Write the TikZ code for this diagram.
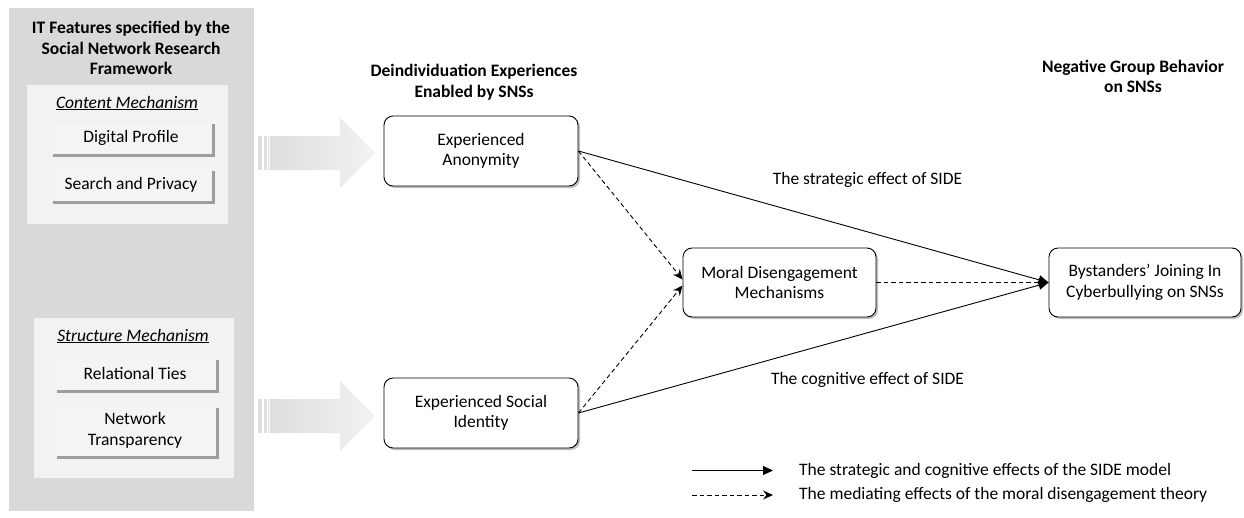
\documentclass[tikz,border=0pt]{standalone}
\usepackage{fontspec}
\setmainfont{Carlito}
\usetikzlibrary{arrows.meta,shadows,calc}
\definecolor{panel}{RGB}{217,217,217}
\definecolor{subpanel}{RGB}{242,242,242}
\definecolor{featfill}{RGB}{244,244,244}
\definecolor{arrowL}{RGB}{222,222,222}
\definecolor{arrowR}{RGB}{242,242,242}
\tikzset{
  basefont/.style={font=\fontsize{17.5}{20.5}\selectfont},
  featbox/.style={basefont, fill=featfill, minimum width=162pt, inner sep=0pt, align=center,
    drop shadow={shadow xshift=2.5pt, shadow yshift=-2.5pt, fill=black, opacity=0.35}},
  roundbox/.style={basefont, draw, line width=0.9pt, fill=white, rounded corners=9pt, align=center, inner sep=0pt,
    drop shadow={shadow xshift=2pt, shadow yshift=-2pt, fill=black, opacity=0.25}},
  header/.style={font=\bfseries\fontsize{17.5}{20.5}\selectfont, align=center},
  solidarrow/.style={line width=0.9pt, -{Triangle[length=10pt,width=9pt]}},
  dasharrow/.style={line width=0.9pt, dash pattern=on 4.5pt off 3pt, -{Stealth[length=10pt,width=9pt,inset=3.5pt]}},
  lbl/.style={basefont, anchor=center},
  bigarrow/.style={left color=arrowL, right color=arrowR, draw=none},
}
\begin{document}
\begin{tikzpicture}[x=1pt,y=-1pt]
\useasboundingbox (0,0) rectangle (1244,517);
\fill[white] (0,0) rectangle (1244,517);

% left panel
\fill[panel] (9,8) rectangle (254,511);
\node[header] (ittitle) at (131,48) {IT Features specified by the\\Social Network Research\\Framework};
\fill[subpanel] (27,85) rectangle (228,224);
\fill[subpanel] (34,318) rectangle (234,478);
\node[basefont] (cm) at (127,103) {\underline{\textit{Content Mechanism}}};
\node[basefont] (sm) at (133,336) {\underline{\textit{Structure Mechanism}}};
\node[featbox, minimum height=33pt] (dp) at (131,137.5) {Digital Profile};
\node[featbox, minimum height=33pt] (sp) at (131,184.5) {Search and Privacy};
\node[featbox, minimum height=33pt] (rt) at (135,373.5) {Relational Ties};
\node[featbox, minimum height=51pt] (nt) at (135,430.5) {Network\\Transparency};

% big arrows
\foreach \cy in {153,416}{
  \fill[arrowL] (258,\cy-17) rectangle (262,\cy+17);
  \fill[arrowL] (263.5,\cy-17) rectangle (266.5,\cy+17);
  \fill[arrowL] (268,\cy-17) rectangle (269.2,\cy+17);
  \path[bigarrow] (270,\cy-17) -- (340,\cy-17) -- (340,\cy-35) -- (375,\cy) -- (340,\cy+35) -- (340,\cy+17) -- (270,\cy+17) -- cycle;
}

% headers
\node[header] (h1) at (474,82) {Deindividuation Experiences\\Enabled by SNSs};
\node[header] (h2) at (1133,76.5) {Negative Group Behavior\\on SNSs};

% main boxes
\node[roundbox, minimum width=194pt, minimum height=70pt] (anon) at (481,151) {Experienced\\Anonymity};
\node[roundbox, minimum width=194pt, minimum height=70pt] (soc) at (481,413) {Experienced Social\\Identity};
\node[roundbox, minimum width=193pt, minimum height=69pt] (moral) at (779.5,282.5) {Moral Disengagement\\Mechanisms};
\node[roundbox, minimum width=192pt, minimum height=69pt] (bys) at (1145,282.5) {Bystanders’ Joining In\\Cyberbullying on SNSs};

% connectors
\draw[solidarrow] (anon.east) -- (bys.west);
\draw[solidarrow] (soc.east) -- (bys.west);
\draw[dasharrow] (moral.east) -- (bys.west);
\draw[dasharrow] (anon.east) -- ($(moral.west)+(0,-3)$);
\draw[dasharrow] (soc.east) -- ($(moral.west)+(0,3)$);

\node[lbl] (l1) at (867.5,180) {The strategic effect of SIDE};
\node[lbl] (l2) at (867.5,380) {The cognitive effect of SIDE};

% legend
\coordinate (s1) at (692,470.5);
\coordinate (e1) at (773,470.5);
\coordinate (s2) at (692,495);
\coordinate (e2) at (773,495);
\draw[solidarrow] (s1) -- (e1);
\draw[dasharrow] (s2) -- (e2);
\node[basefont, anchor=west, inner sep=0pt] (t1) at (799,470.5) {The strategic and cognitive effects of the SIDE model};
\node[basefont, anchor=west, inner sep=0pt] (t2) at (799,495) {The mediating effects of the moral disengagement theory};
\end{tikzpicture}
\end{document}
